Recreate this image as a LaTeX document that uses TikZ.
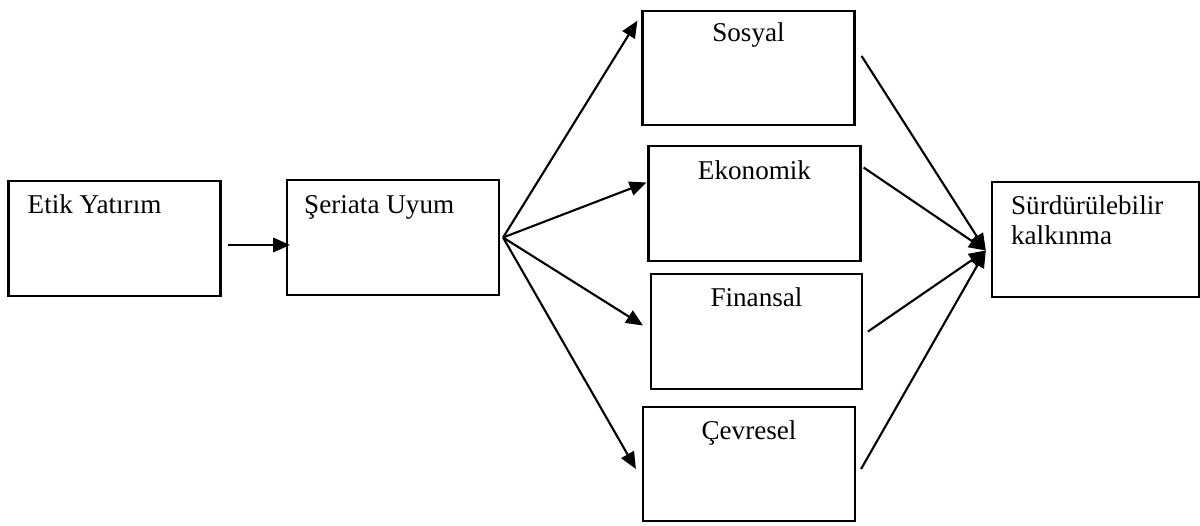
\documentclass[tikz,border=0pt]{standalone}
\usepackage{fontspec}
\setmainfont{Liberation Serif}
\usetikzlibrary{arrows.meta}

\begin{document}
\begin{tikzpicture}[x=0.025cm, y=-0.025cm,
	box/.style={draw, line width=1.5pt, minimum width=5.3cm, minimum height=2.86cm, inner sep=0},
	txt/.style={font=\fontsize{19.3}{21.3}\selectfont, inner sep=0},
	arr/.style={line width=1.5pt, -{Triangle[length=0.42cm, width=0.36cm]}}]
\useasboundingbox (0, 0) rectangle (1200, 525);

%boxes
\node[box] (etik) at (114.5, 238.5) {};
\node[box] (seriata) at (393, 237.5) {};
\node[box] (sosyal) at (748.5, 68) {};
\node[box] (ekonomik) at (754.5, 203.5) {};
\node[box, minimum width=5.27cm] (finansal) at (756.5, 331.5) {};
\node[box] (cevresel) at (749, 464) {};
\node[box, minimum width=5.18cm] (surdur) at (1095.5, 239.5) {};

\node[txt, anchor=base west] (etiktxt) at ([shift={(20, 33)}]etik.north west) {Etik Yatırım};
\node[txt, anchor=base west] (seriatatxt) at ([shift={(18, 34)}]seriata.north west) {Şeriata Uyum};
\node[txt, anchor=base] (sosyaltxt) at ([shift={(0, 32)}]sosyal.north) {Sosyal};
\node[txt, anchor=base] (ekonomiktxt) at ([shift={(0, 34)}]ekonomik.north) {Ekonomik};
\node[txt, anchor=base] (finansaltxt) at ([shift={(0, 33)}]finansal.north) {Finansal};
\node[txt, anchor=base] (cevreseltxt) at ([shift={(0, 34)}]cevresel.north) {Çevresel};
\node[txt, anchor=base west] (surdurtxt) at ([shift={(20, 33)}]surdur.north west) {Sürdürülebilir};
\node[txt, anchor=base west] (kalkinma) at ([shift={(20, 63)}]surdur.north west) {kalkınma};

%arrows
\draw[arr] ([shift={(6, 6.5)}]etik.east) -- ([shift={(4, 7.5)}]seriata.west);

\coordinate (fan) at ([shift={(3, 0)}]seriata.east);
\draw[arr] (fan) -- ([shift={(-4, 11)}]sosyal.north west);
\draw[arr] (fan) -- ([shift={(-1, -21)}]ekonomik.west);
\draw[arr] (fan) -- ([shift={(-7, -6)}]finansal.west);
\draw[arr] (fan) -- ([shift={(-6, 5)}]cevresel.west);

\coordinate (hub) at ([shift={(-5, 11)}]surdur.west);
\draw[arr] ([shift={(6, -12)}]sosyal.east) -- (hub);
\draw[arr] ([shift={(2, -36)}]ekonomik.east) -- (hub);
\draw[arr] ([shift={(5, 0)}]finansal.east) -- (hub);
\draw[arr] ([shift={(5, 5)}]cevresel.east) -- (hub);

\end{tikzpicture}
\end{document}
